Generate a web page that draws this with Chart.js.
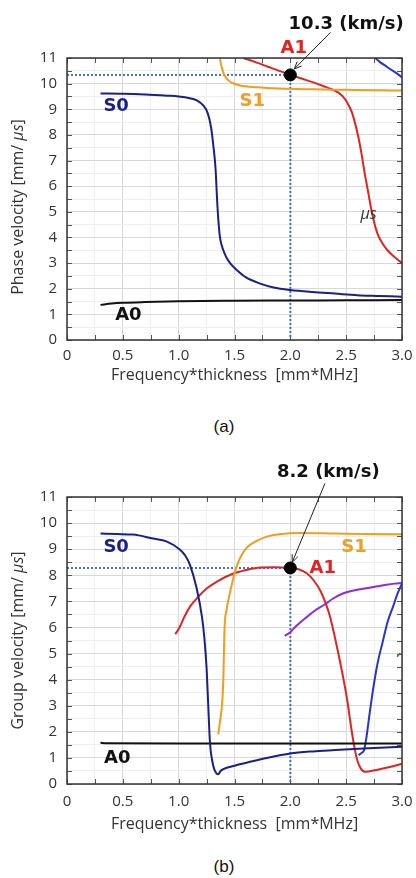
<!DOCTYPE html>
<html>
<head>
<meta charset="utf-8">
<script src="https://cdn.jsdelivr.net/npm/chart.js@4/dist/chart.umd.min.js"></script>
<style>
  body { margin: 0; background: #fff; }
  #page { position: relative; width: 416px; height: 878px; overflow: hidden; }
  canvas { position: absolute; left: 0; }
  .caption { position: absolute; left: 0; width: 448px; text-align: center; font: 17px "Liberation Sans", Arial, sans-serif; color: #111; }
</style>
</head>
<body>
<div id="page">
  <canvas id="phase" width="416" height="400" style="top:0"></canvas>
  <div class="caption" style="top:417px">(a)</div>
  <canvas id="group" width="416" height="400" style="top:440px"></canvas>
  <div class="caption" style="top:857px">(b)</div>
</div>
<script>
// tick labels shared by both panels
const xTickLabels = ['0', '0.5', '1.0', '1.5', '2.0', '2.5', '3.0']
const yTickLabels = ['0', '1', '2', '3', '4', '5', '6', '7', '8', '9', '10', '11']

// (a) phase velocity curves, [fd, velocity]
const phaseS0 = [[0.30, 9.62], [0.5, 9.61], [0.7, 9.58], [0.9, 9.53], [1.0, 9.5], [1.1, 9.43], [1.17, 9.33], [1.22, 9.15],
  [1.26, 8.85], [1.29, 8.3], [1.31, 7.6], [1.33, 6.7], [1.345, 5.4], [1.355, 4.7], [1.37, 4.0], [1.4, 3.5], [1.43, 3.2],
  [1.47, 2.95], [1.52, 2.73], [1.6, 2.45], [1.73, 2.2], [1.85, 2.05], [2.0, 1.95], [2.2, 1.87], [2.4, 1.81], [2.6, 1.75],
  [2.8, 1.72], [3.0, 1.69]]
const phaseA0 = [[0.3, 1.37], [0.4, 1.42], [0.5, 1.45], [0.7, 1.48], [1.0, 1.51], [1.5, 1.53], [2.0, 1.54], [2.5, 1.55], [3.0, 1.56]]
const phaseS1 = [[1.37, 11.0], [1.375, 10.85], [1.385, 10.65], [1.40, 10.42], [1.43, 10.2], [1.47, 10.05], [1.55, 9.93],
  [1.7, 9.86], [1.9, 9.81], [2.2, 9.78], [2.5, 9.76], [2.8, 9.74], [3.0, 9.73]]
const phaseA1 = [[1.58, 11.0], [1.7, 10.82], [1.8, 10.66], [1.9, 10.5], [2.0, 10.35], [2.1, 10.2], [2.2, 10.06], [2.3, 9.9],
  [2.37, 9.78], [2.43, 9.65], [2.47, 9.5], [2.51, 9.25], [2.55, 8.9], [2.58, 8.45], [2.61, 7.9], [2.64, 7.2], [2.67, 6.4],
  [2.7, 5.7], [2.72, 5.2], [2.75, 4.6], [2.78, 4.15], [2.82, 3.8], [2.87, 3.5], [2.93, 3.25], [3.0, 3.0]]
const phaseMode3 = [[2.76, 11.0], [2.8, 10.85], [2.85, 10.7], [2.89, 10.58], [2.94, 10.44], [3.0, 10.25]]
const phaseMark = [[2.0, 10.34]]
const phaseGuideH = [[0, 10.34], [2.0, 10.34]]
const phaseGuideV = [[2.0, 10.34], [2.0, 0]]

// (b) group velocity curves
const groupS0 = [[0.3, 9.6], [0.45, 9.58], [0.59, 9.56], [0.77, 9.41], [0.89, 9.3], [1.01, 8.99], [1.06, 8.75], [1.10, 8.41],
  [1.16, 7.52], [1.21, 6.37], [1.23, 5.6], [1.25, 4.45], [1.265, 3.0], [1.28, 1.6], [1.3, 0.9], [1.32, 0.55], [1.355, 0.37],
  [1.375, 0.5], [1.4, 0.57], [1.5, 0.7], [1.64, 0.85], [1.79, 1.0], [2.0, 1.17], [2.2, 1.25], [2.4, 1.3], [2.7, 1.37], [3.0, 1.43]]
const groupA0 = [[0.3, 1.58], [0.35, 1.56], [1.0, 1.55], [2.0, 1.55], [3.0, 1.55]]
const groupS1 = [[1.355, 1.9], [1.37, 2.4], [1.385, 2.9], [1.395, 3.5], [1.40, 4.0], [1.405, 5.0], [1.41, 5.9], [1.43, 6.7],
  [1.46, 7.35], [1.49, 7.9], [1.52, 8.35], [1.56, 8.75], [1.61, 9.06], [1.7, 9.32], [1.79, 9.48], [1.9, 9.57], [2.09, 9.62],
  [2.4, 9.6], [2.7, 9.58], [3.0, 9.57]]
const groupA1 = [[0.97, 5.74], [1.01, 6.02], [1.05, 6.4], [1.1, 6.79], [1.17, 7.15], [1.25, 7.49], [1.35, 7.78], [1.49, 8.07],
  [1.6, 8.2], [1.73, 8.3], [1.85, 8.31], [2.0, 8.28], [2.08, 8.22], [2.15, 8.07], [2.21, 7.8], [2.27, 7.4], [2.31, 7.0],
  [2.35, 6.5], [2.39, 5.8], [2.43, 5.0], [2.47, 4.15], [2.51, 3.2], [2.54, 2.3], [2.57, 1.5], [2.6, 0.9], [2.63, 0.6],
  [2.67, 0.47], [2.77, 0.54], [2.9, 0.66], [3.0, 0.78]]
const groupMode3 = [[1.95, 5.68], [2.0, 5.82], [2.03, 5.96], [2.09, 6.2], [2.15, 6.41], [2.22, 6.65], [2.30, 6.86],
  [2.38, 7.1], [2.47, 7.3], [2.57, 7.42], [2.68, 7.5], [2.78, 7.58], [2.86, 7.64], [2.93, 7.68], [3.0, 7.7]]
const groupMode4 = [[2.61, 1.11], [2.64, 1.2], [2.66, 1.3], [2.68, 1.75], [2.71, 2.7], [2.74, 3.6], [2.78, 4.6], [2.83, 5.5],
  [2.87, 6.2], [2.92, 6.8], [2.96, 7.3], [3.0, 7.68]]
const groupStray = [[2.955, 4.88], [2.985, 5.02]]
const groupMark = [[2.0, 8.28]]
const groupGuideH = [[0, 8.28], [2.0, 8.28]]
const groupGuideV = [[2.0, 8.28], [2.0, 0]]

const NAVY = '#1b1f8a', ORANGE = '#f39c1f', RED = '#e02424', BLUE = '#2535d0', PURPLE = '#8c2be0', GUIDE = '#3f6fd1'
const labelFont = 'bold 18px "DejaVu Sans"'
const titleFont = '16px "Open Sans"'

const toXY = pts => pts.map(p => ({x: p[0], y: p[1]}))

// plain line series
const curve = (pts, color, width = 2) => ({
  data: toXY(pts), borderColor: color, borderWidth: width, showLine: true,
  pointRadius: 0, cubicInterpolationMode: 'monotone', fill: false
})

const guide = pts => ({
  data: toXY(pts), borderColor: GUIDE, borderWidth: 2, borderDash: [2, 2], showLine: true, pointRadius: 0
})

const marker = pts => ({
  data: toXY(pts), pointRadius: 6, pointBackgroundColor: '#000', pointBorderColor: '#000', showLine: false
})

/**
 * Frame, inward ticks, y title, curve labels and the call-out arrow
 */
function overlay(notes) {
  return {
    id: 'overlay',
    beforeDatasetsDraw(chart) {
      const {ctx, chartArea: a, scales: {x, y}} = chart
      ctx.save()
      ctx.strokeStyle = '#555'
      ctx.lineWidth = 1
      ctx.beginPath()
      x.ticks.forEach(t => {
        const px = Math.round(x.getPixelForValue(t.value)) + 0.5
        ctx.moveTo(px, a.bottom); ctx.lineTo(px, a.bottom - 5)
        ctx.moveTo(px, a.top); ctx.lineTo(px, a.top + 5)
      })
      y.ticks.forEach(t => {
        const py = Math.round(y.getPixelForValue(t.value)) + 0.5
        ctx.moveTo(a.left, py); ctx.lineTo(a.left + 5, py)
        ctx.moveTo(a.right, py); ctx.lineTo(a.right - 5, py)
      })
      ctx.stroke()

      // rotated y title, the unit in italics
      const parts = [[notes.yTitle, titleFont], ['\u03bcs', 'italic ' + titleFont], [']', titleFont]]
      let w = 0
      parts.forEach(p => { ctx.font = p[1]; w += ctx.measureText(p[0]).width })
      ctx.translate(18, (a.top + a.bottom) / 2 + notes.yTitleShift)
      ctx.rotate(-Math.PI / 2)
      ctx.fillStyle = '#333'
      ctx.textBaseline = 'middle'
      let cx = -w / 2
      parts.forEach(p => {
        ctx.font = p[1]
        ctx.fillText(p[0], cx, 0)
        cx += ctx.measureText(p[0]).width
      })
      ctx.restore()
    },
    afterDatasetsDraw(chart) {
      const {ctx, chartArea: a, scales: {x, y}} = chart
      ctx.save()
      ctx.strokeStyle = '#333'
      ctx.lineWidth = 1.5
      ctx.strokeRect(a.left, a.top, a.width, a.height)

      ctx.textAlign = 'center'
      ctx.textBaseline = 'middle'
      notes.labels.forEach(l => {
        ctx.font = l.font || labelFont
        ctx.fillStyle = l.color
        ctx.fillText(l.text, x.getPixelForValue(l.x), y.getPixelForValue(l.y))
      })

      // arrow from the value text to the marked point
      const [tail, head] = notes.arrow
      const x0 = x.getPixelForValue(tail[0]), y0 = y.getPixelForValue(tail[1])
      const x1 = x.getPixelForValue(head[0]), y1 = y.getPixelForValue(head[1])
      const ang = Math.atan2(y1 - y0, x1 - x0)
      ctx.strokeStyle = '#222'
      ctx.lineWidth = 1
      ctx.beginPath()
      ctx.moveTo(x0, y0); ctx.lineTo(x1, y1)
      ctx.moveTo(x1 - 8 * Math.cos(ang - 0.4), y1 - 8 * Math.sin(ang - 0.4))
      ctx.lineTo(x1, y1)
      ctx.lineTo(x1 - 8 * Math.cos(ang + 0.4), y1 - 8 * Math.sin(ang + 0.4))
      ctx.stroke()
      ctx.restore()
    }
  }
}

/**
 * Builds one dispersion panel
 */
function panel(id, datasets, notes, layout) {
  const axisFont = {family: '"Open Sans"', size: 15}
  return new Chart(document.getElementById(id), {
    type: 'scatter',
    data: {datasets},
    options: {
      responsive: false,
      animation: false,
      devicePixelRatio: 1,
      layout: {padding: {top: layout.top, right: 14, left: 0, bottom: 0}},
      plugins: {legend: {display: false}, tooltip: {enabled: false}},
      scales: {
        x: {
          type: 'linear', min: 0, max: 3,
          border: {display: false},
          grid: {color: c => c.index % 2 ? '#eeeeee' : '#d8d8d8', drawTicks: false},
          ticks: {
            stepSize: 0.25, autoSkip: false, maxRotation: 0, padding: layout.xTickPad,
            color: '#333', font: axisFont,
            callback: (v, i) => i % 2 ? '' : xTickLabels[i / 2]
          },
          title: {display: true, text: 'Frequency*thickness  [mm*MHz]', color: '#333',
            font: {family: '"Open Sans"', size: 16}, padding: {top: 0, bottom: layout.xTitlePad}},
          afterFit: s => {
            s.height = layout.xAxisH
            s.paddingLeft = 0
            s.paddingRight = 0
          }
        },
        y: {
          type: 'linear', min: 0, max: 11,
          border: {display: false},
          grid: {color: c => c.index % 2 ? '#eeeeee' : '#d8d8d8', drawTicks: false},
          ticks: {
            stepSize: 0.5, autoSkip: false, padding: 10, color: '#333', font: axisFont,
            callback: (v, i) => i % 2 ? '' : yTickLabels[i / 2]
          },
          afterFit: s => { s.width = 67 }
        }
      }
    },
    plugins: [overlay(notes)]
  })
}

panel('phase', [
  marker(phaseMark),
  curve(phaseS0, NAVY),
  curve(phaseA0, '#111'),
  curve(phaseS1, ORANGE),
  curve(phaseA1, RED),
  curve(phaseMode3, BLUE),
  guide(phaseGuideH),
  guide(phaseGuideV)
], {
  yTitle: 'Phase velocity [mm/ ',
  yTitleShift: 8,
  labels: [
    {text: 'S0', x: 0.44, y: 9.1, color: NAVY},
    {text: 'S1', x: 1.66, y: 9.3, color: ORANGE},
    {text: 'A1', x: 2.03, y: 11.37, color: RED},
    {text: 'A0', x: 0.55, y: 0.96, color: '#111'},
    {text: '10.3 (km/s)', x: 2.5, y: 12.32, color: '#111'},
    {text: '\u03bcs', x: 2.7, y: 4.91, color: '#333', font: 'italic 16px "Open Sans"'}
  ],
  arrow: [[2.36, 12.0], [2.035, 10.57]]
}, {top: 58, xAxisH: 60, xTickPad: 7, xTitlePad: 15})

panel('group', [
  marker(groupMark),
  curve(groupS0, NAVY),
  curve(groupA0, '#111'),
  curve(groupS1, ORANGE),
  curve(groupA1, RED),
  curve(groupMode3, PURPLE),
  curve(groupMode4, BLUE),
  curve(groupStray, '#2a8a2a', 1.5),
  guide(groupGuideV),
  guide(groupGuideH)
], {
  yTitle: 'Group velocity [mm/ ',
  yTitleShift: 0,
  labels: [
    {text: 'S0', x: 0.44, y: 9.09, color: NAVY},
    {text: 'S1', x: 2.57, y: 9.09, color: ORANGE},
    {text: 'A1', x: 2.29, y: 8.25, color: RED},
    {text: 'A0', x: 0.45, y: 0.98, color: '#111'},
    {text: '8.2 (km/s)', x: 2.34, y: 11.93, color: '#111'}
  ],
  arrow: [[2.31, 11.52], [2.017, 8.5]]
}, {top: 57, xAxisH: 56, xTickPad: 9, xTitlePad: 6})
</script>
</body>
</html>
